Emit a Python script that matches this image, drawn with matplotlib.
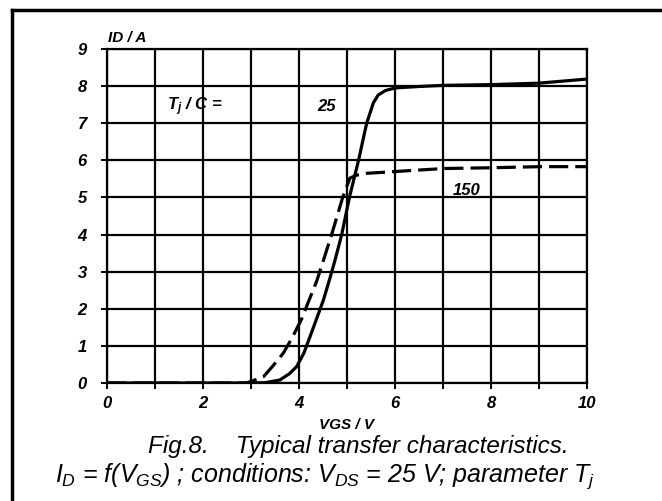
import matplotlib
matplotlib.use("Agg")
import matplotlib.pyplot as plt
from matplotlib.lines import Line2D

plt.rcParams['font.family'] = ['Liberation Sans', 'DejaVu Sans']
plt.rcParams['mathtext.fontset'] = 'custom'
plt.rcParams['mathtext.rm'] = 'Liberation Sans:italic'
plt.rcParams['mathtext.it'] = 'Liberation Sans:italic'

# data
vgs_25 = [0, 1, 2, 3, 3.3, 3.6, 3.8, 3.95, 4.1, 4.23, 4.4, 4.51, 4.65, 4.75, 4.89,
          5.05, 5.24, 5.41, 5.55, 5.65, 5.8, 6.0, 6.5, 7.0, 8.0, 9.0, 10]
id_25 = [0, 0, 0, 0, 0.01, 0.08, 0.25, 0.44, 0.8, 1.25, 1.85, 2.24, 2.85, 3.31, 4.0,
         5.0, 6.0, 7.0, 7.55, 7.76, 7.88, 7.95, 7.99, 8.02, 8.04, 8.08, 8.19]
vgs_150 = [0, 1, 2, 2.9, 3.0, 3.26, 3.45, 3.67, 3.85, 4.06, 4.2, 4.37, 4.51, 4.68,
           4.91, 5.06, 5.2, 5.41, 6.03, 6.52, 7.03, 8.0, 9.04, 10]
id_150 = [0, 0, 0, 0, 0.04, 0.17, 0.45, 0.8, 1.2, 1.74, 2.2, 2.75, 3.31, 4.0,
          5.0, 5.52, 5.6, 5.65, 5.70, 5.74, 5.78, 5.8, 5.83, 5.83]
x_ticks = [0, 2, 4, 6, 8, 10]
y_ticks = [0, 1, 2, 3, 4, 5, 6, 7, 8, 9]

fig = plt.figure(figsize=(6.62, 5.01), dpi=100)
ax = fig.add_axes([107/662, 1-383/501, 480/662, 334/501])
ax.set_xlim(0, 10)
ax.set_ylim(0, 9)

for v in range(0, 11):
    ax.axvline(v, color='black', lw=1.6, zorder=1)
for i in range(0, 10):
    ax.axhline(i, color='black', lw=1.6, zorder=1)

ax.plot(vgs_25, id_25, color='black', lw=2.3, zorder=3)
ax.plot(vgs_150, id_150, color='black', lw=2.3, dashes=(6, 2.2), zorder=3)

ax.set_xticks(range(0, 11))
ax.set_xticklabels([str(v) if v in x_ticks else '' for v in range(0, 11)])
ax.set_yticks(y_ticks)
ax.set_yticklabels([str(v) for v in y_ticks])
ax.tick_params(direction='out', length=4, width=1.4, color='black', labelsize=12)
ax.tick_params(axis='x', pad=5)
ax.tick_params(axis='y', pad=10.5)
for lab in ax.get_xticklabels() + ax.get_yticklabels():
    lab.set_fontweight('bold')
    lab.set_fontstyle('italic')
for s in ax.spines.values():
    s.set_linewidth(1.6)

ax.text(0.03, 9.12, 'ID / A', fontsize=11, fontweight='bold', fontstyle='italic',
        ha='left', va='bottom')
ax.text(5, -0.95, 'VGS / V', fontsize=11, fontweight='bold', fontstyle='italic',
        ha='center', va='top')
ax.text(1.25, 7.45, r'T$\mathregular{_j}$ / C =', fontsize=12, fontweight='bold',
        fontstyle='italic', ha='left', va='center')
ax.text(4.58, 7.45, '25', fontsize=12, fontweight='bold', fontstyle='italic',
        ha='center', va='center')
ax.text(7.5, 5.2, '150', fontsize=12, fontweight='bold', fontstyle='italic',
        ha='center', va='center')

fig.text(148/662, 1-447/501, 'Fig.8.    Typical transfer characteristics.', fontsize=17.5,
         fontstyle='italic', ha='left', va='center')
fig.text(55/662, 1-476/501,
         r'$I_D$ = f($V_{GS}$) ; conditions: $V_{DS}$ = 25 V; parameter $T_j$',
         fontsize=18, fontstyle='italic', ha='left', va='center')

fig.add_artist(Line2D([12/662, 12/662], [0, 1-10/501], color='black', lw=2.5,
                      transform=fig.transFigure))
fig.add_artist(Line2D([12/662, 1], [1-10/501, 1-10/501], color='black', lw=2.5,
                      transform=fig.transFigure))

fig.savefig('out.png', dpi=100)
